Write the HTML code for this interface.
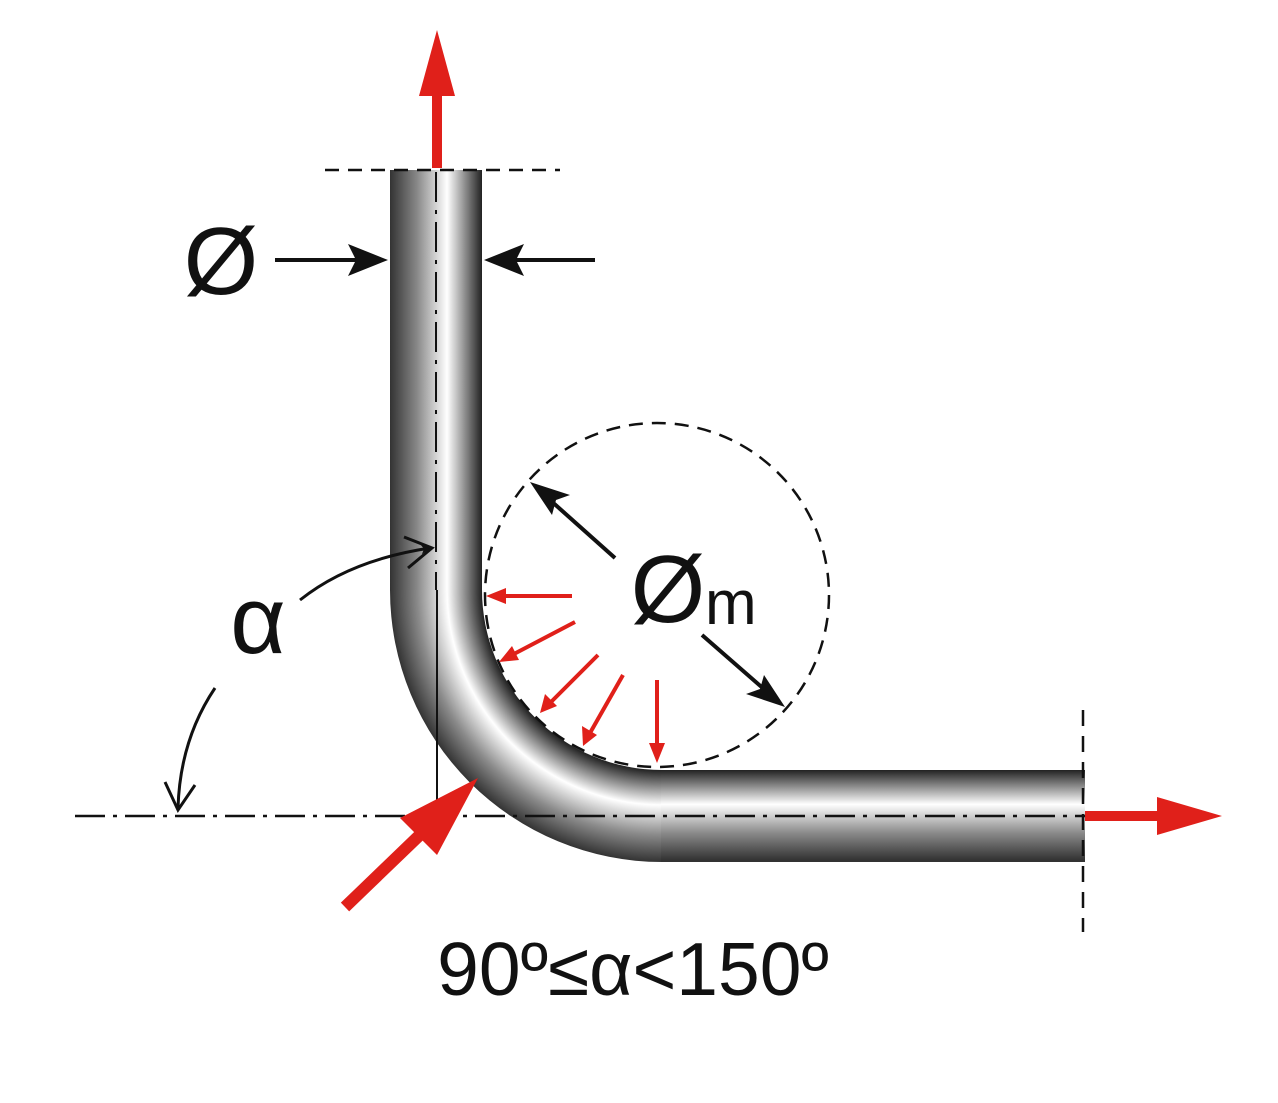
<!DOCTYPE html>
<html><head><meta charset="utf-8"><style>html,body{margin:0;padding:0;background:#fff}svg{display:block}</style></head>
<body>
<svg width="1278" height="1103" viewBox="0 0 1278 1103" xmlns="http://www.w3.org/2000/svg">
<defs>
<linearGradient id="gv" gradientUnits="userSpaceOnUse" x1="390" y1="0" x2="482" y2="0">
<stop offset="0" stop-color="#333"/><stop offset="0.3" stop-color="#8a8a8a"/><stop offset="0.62" stop-color="#fff"/><stop offset="1" stop-color="#222"/>
</linearGradient>
<linearGradient id="gh" gradientUnits="userSpaceOnUse" x1="0" y1="860" x2="0" y2="770">
<stop offset="0" stop-color="#333"/><stop offset="0.3" stop-color="#8a8a8a"/><stop offset="0.62" stop-color="#fff"/><stop offset="1" stop-color="#222"/>
</linearGradient>
<radialGradient id="gr" gradientUnits="userSpaceOnUse" cx="662" cy="590" r="272">
<stop offset="0.662" stop-color="#222"/><stop offset="0.79" stop-color="#fff"/><stop offset="0.9" stop-color="#8a8a8a"/><stop offset="1" stop-color="#333"/>
</radialGradient>
<marker id="ba" markerWidth="10" markerHeight="10" refX="9" refY="5" orient="auto" markerUnits="userSpaceOnUse" viewBox="0 0 10 10"><path d="M0,0 L10,5 L0,10 L3,5 z" fill="#111"/></marker>
</defs>
<rect x="390" y="170" width="92" height="421" fill="url(#gv)"/>
<path d="M390,590 A272,272 0 0 0 662,862 L662,770 A180,180 0 0 1 482,590 Z" fill="url(#gr)"/>
<rect x="661" y="770" width="424" height="92" fill="url(#gh)"/>
<line x1="325" y1="170" x2="560" y2="170" stroke="#111" stroke-width="2.5" stroke-dasharray="14,9"/>
<line x1="1083" y1="710" x2="1083" y2="932" stroke="#111" stroke-width="2.5" stroke-dasharray="16,10"/>
<line x1="75" y1="816" x2="1085" y2="816" stroke="#111" stroke-width="2.5" stroke-dasharray="30,8,4,8"/>
<line x1="436" y1="172" x2="436" y2="590" stroke="#111" stroke-width="2" stroke-dasharray="30,8,4,8"/>
<line x1="437" y1="590" x2="437" y2="816" stroke="#111" stroke-width="2"/>
<circle cx="657" cy="595" r="172" fill="none" stroke="#111" stroke-width="2.5" stroke-dasharray="14,9"/>
<line x1="437" y1="168" x2="437" y2="90" stroke="#e0201a" stroke-width="10"/>
<polygon points="437,30 419,96 455,96" fill="#e0201a"/>
<line x1="1085" y1="816" x2="1165" y2="816" stroke="#e0201a" stroke-width="10"/>
<polygon points="1222,816 1157,797 1157,835" fill="#e0201a"/>
<line x1="345" y1="907" x2="425" y2="830" stroke="#e0201a" stroke-width="12"/>
<polygon points="478,778 400,818 437,855" fill="#e0201a"/>
<g stroke="#e0201a" stroke-width="4" fill="#e0201a">
<line x1="572" y1="596" x2="500" y2="596"/><polygon points="486,596 506,588 506,604" stroke="none"/>
<line x1="575" y1="622" x2="512" y2="655"/><polygon points="499,662 512,646 519,660" stroke="none"/>
<line x1="598" y1="655" x2="550" y2="703"/><polygon points="540,713 545,694 557,706" stroke="none"/>
<line x1="623" y1="675" x2="590" y2="733"/><polygon points="583,746 582,726 597,735" stroke="none"/>
<line x1="657" y1="680" x2="657" y2="748"/><polygon points="657,763 649,743 665,743" stroke="none"/>
</g>
<line x1="275" y1="260" x2="360" y2="260" stroke="#111" stroke-width="4"/>
<polygon points="388,260 348,244 356,260 348,276" fill="#111"/>
<line x1="595" y1="260" x2="510" y2="260" stroke="#111" stroke-width="4"/>
<polygon points="484,260 524,244 516,260 524,276" fill="#111"/>
<line x1="615" y1="558" x2="550" y2="500" stroke="#111" stroke-width="4"/>
<polygon points="530,482 570,495 556,500 552,515" fill="#111"/>
<line x1="702" y1="635" x2="765" y2="690" stroke="#111" stroke-width="4"/>
<polygon points="785,707 746,694 760,689 764,675" fill="#111"/>
<path d="M300,600 Q350,560 430,548" fill="none" stroke="#111" stroke-width="3" marker-end="url(#ba)"/>
<path d="M404,537 L432,548 L408,568" fill="none" stroke="#111" stroke-width="3"/>
<path d="M215,688 Q180,740 178,808" fill="none" stroke="#111" stroke-width="3"/>
<path d="M165,782 L178,810 L195,785" fill="none" stroke="#111" stroke-width="3"/>
<g font-family="Liberation Sans, sans-serif" fill="#111">
<text x="221" y="294" font-size="96" text-anchor="middle">Ø</text>
<text x="258" y="653" font-size="96" text-anchor="middle">α</text>
<text x="668" y="622" font-size="96" text-anchor="middle">Ø</text>
<text x="705" y="624" font-size="62">m</text>
<text x="633" y="995" font-size="75" text-anchor="middle">90º≤α&lt;150º</text>
</g>
</svg>
</body></html>
